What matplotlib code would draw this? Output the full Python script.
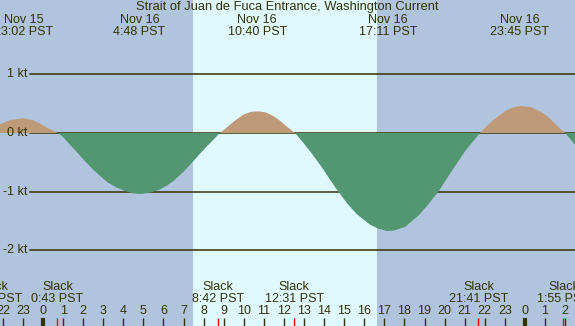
import matplotlib
matplotlib.use("Agg")
import matplotlib.pyplot as plt

# hours from Nov 16 00:00 PST, speed in knots
hours = [-2.14, -1.64, -0.98, -0.5, -0.15, 0.2, 0.5, 0.74, 1.0, 1.34, 1.7, 2.01,
         2.4, 2.84, 3.25, 3.67, 4.1, 4.5, 4.9, 5.4, 5.83, 6.15, 6.49, 7.0, 7.49,
         7.8, 8.15, 8.5, 8.8, 9.0, 9.48, 9.97, 10.35, 10.72, 11.1, 11.47, 11.8,
         12.14, 12.55, 12.9, 13.3, 13.96, 14.3, 14.71, 15.15, 15.62, 16.28, 16.7,
         17.12, 17.5, 18.03, 18.69, 19.2, 19.69, 20.35, 21.02, 21.4, 21.76, 22.05,
         22.42, 23.09, 23.45, 23.84, 24.3, 24.75, 25.1, 25.41, 25.7, 26.0, 26.25, 26.49]
speed = [0.15, 0.22, 0.25, 0.22, 0.16, 0.09, 0.04, 0.0, -0.07, -0.20, -0.33, -0.45,
         -0.59, -0.73, -0.85, -0.93, -0.99, -1.03, -1.04, -1.01, -0.96, -0.90, -0.82,
         -0.66, -0.48, -0.36, -0.23, -0.11, 0.0, 0.05, 0.19, 0.31, 0.36, 0.37, 0.35,
         0.29, 0.21, 0.11, 0.0, -0.14, -0.31, -0.62, -0.80, -1.0, -1.20, -1.38, -1.56,
         -1.63, -1.67, -1.66, -1.60, -1.41, -1.21, -1.0, -0.65, -0.31, -0.15, 0.0,
         0.10, 0.22, 0.39, 0.44, 0.46, 0.44, 0.37, 0.29, 0.19, 0.09, 0.0, -0.10, -0.20]

# max current events
max_hours = [-0.967, 4.8, 10.667, 17.183, 23.75]
max_days = ["Nov 15", "Nov 16", "Nov 16", "Nov 16", "Nov 16"]
max_times = ["23:02 PST", "4:48 PST", "10:40 PST", "17:11 PST", "23:45 PST"]

# slack water events
slack_hours = [-2.52, 0.717, 8.7, 12.517, 21.683, 25.917]
slack_times = ["21:29 PST", "0:43 PST", "8:42 PST", "12:31 PST", "21:41 PST", "1:55 PST"]

sunrise, sunset = 7.47, 16.63
kt_levels = [1, 0, -1, -2]
kt_labels = ["1 kt", "0 kt", "-1 kt", "-2 kt"]
hour_ticks = list(range(-2, 27))

NIGHT = "#B0C4DE"
DAY = "#E0F8FF"
EBB = "#BF9A79"
FLOOD = "#529672"
INK = "#333300"

W, H = 575, 326
X0, PX_H = 43, 20.08      # pixel of midnight, pixels per hour
Y0, PX_KT = 133, 58.7     # pixel of 0 kt, pixels per knot


def fy(py):
    # pixel row -> axes fraction
    return 1 - py / H


def main():
    plt.rcParams["font.family"] = ["Liberation Sans", "DejaVu Sans"]
    fs = 9.0

    fig = plt.figure(figsize=(W / 100, H / 100), dpi=100, facecolor=NIGHT)
    ax = fig.add_axes([0, 0, 1, 1])
    ax.axis("off")
    ax.set_xlim(-X0 / PX_H, (W - X0) / PX_H)
    ax.set_ylim(-(H - Y0) / PX_KT, Y0 / PX_KT)

    ax.axvspan(sunrise, sunset, color=DAY, lw=0, zorder=0)

    # knot lines and labels
    x_line = (30 - X0) / PX_H
    x_lab = (28 - X0) / PX_H
    for v, lab in zip(kt_levels, kt_labels):
        ax.plot([x_line, hours[-1]], [v, v], color=INK, lw=1.1, zorder=1)
        ax.text(x_lab, v, lab, ha="right", va="center", color=INK, fontsize=fs)

    ax.fill_between(hours, speed, 0, where=[s >= 0 for s in speed],
                    interpolate=True, color=EBB, lw=0, zorder=2)
    ax.fill_between(hours, speed, 0, where=[s <= 0 for s in speed],
                    interpolate=True, color=FLOOD, lw=0, zorder=2)

    tr = ax.get_xaxis_transform()
    ax.text(0.5, fy(7), "Strait of Juan de Fuca Entrance, Washington Current",
            transform=ax.transAxes, ha="center", va="center", color=INK, fontsize=9.3)

    for h, d, t in zip(max_hours, max_days, max_times):
        ax.text(h, fy(20), d, transform=tr, ha="center", va="center", color=INK, fontsize=fs)
        ax.text(h, fy(32), t, transform=tr, ha="center", va="center", color=INK, fontsize=fs)

    for h, t in zip(slack_hours, slack_times):
        ax.text(h, fy(287), "Slack", transform=tr, ha="center", va="center", color=INK, fontsize=fs)
        ax.text(h, fy(299), t, transform=tr, ha="center", va="center", color=INK, fontsize=fs)

    # hour ticks along the bottom
    for h in hour_ticks:
        ax.text(h, fy(311.5), str(h % 24), transform=tr, ha="center", va="center",
                color=INK, fontsize=fs)
        lw = 3 if h % 24 == 0 else 1
        ax.plot([h, h], [0, fy(318)], transform=tr, color=INK, lw=lw,
                solid_capstyle="butt", zorder=3)
    for h in slack_hours:
        ax.plot([h, h], [0, fy(318)], transform=tr, color="#FF0000", lw=1,
                solid_capstyle="butt", zorder=3)

    fig.savefig("out.png", dpi=100, facecolor=NIGHT)


if __name__ == "__main__":
    main()
